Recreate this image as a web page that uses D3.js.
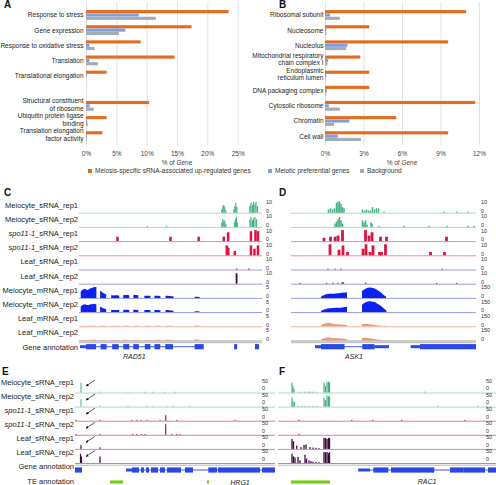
<!DOCTYPE html>
<html><head><meta charset="utf-8">
<script src="https://cdn.jsdelivr.net/npm/d3@7"></script>
<style>body{margin:0;background:#fff}svg{display:block;font-family:"Liberation Sans",Arial,sans-serif}</style>
</head><body><svg id="c" width="496" height="485"></svg>
<script>
// ================= DATA =================
// Panel A
const catsA = [["Response to stress"],["Gene expression"],["Response to oxidative stress"],["Translation"],["Translational elongation"],[],["Structural constituent","of ribosome"],["Ubiquitin protein ligase","binding"],["Translation elongation","factor activity"]];
const meiosisA = [23.5,17.4,9.0,14.6,3.4,null,10.4,3.4,2.7];
const meioticA = [8.7,6.5,0.55,0.55,0.15,null,0.6,0.2,0.15];
const backgroundA = [11.5,5.4,1.4,2.0,0.05,null,1.3,0.3,0.1];
const ticksA = [0,5,10,15,20,25];
// Panel B
const catsB = [["Ribosomal subunit"],["Nucleosome"],["Nucleolus"],["Mitochondrial respiratory","chain complex I"],["Endoplasmic","reticulum lumen"],["DNA packaging complex"],["Cytosolic ribosome"],["Chromatin"],["Cell wall"]];
const meiosisB = [11.0,3.45,9.6,2.75,3.45,3.45,11.7,5.55,9.6];
const meioticB = [0.4,0.1,1.75,0.25,0.1,0.15,0.3,1.9,1.0];
const backgroundB = [1.15,0.1,1.65,0.2,0.05,0.1,1.15,0.7,2.8];
const ticksB = [0,3,6,9,12];
const seriesNames = ["Meiosis-specific sRNA-associated up-regulated genes","Meiotic preferential genes","Background"];

// Genome browser track labels
const labelsCD = ["Meiocyte_sRNA_rep1","Meiocyte_sRNA_rep2","spo11-1_sRNA_rep1","spo11-1_sRNA_rep2","Leaf_sRNA_rep1","Leaf_sRNA_rep2","Meiocyte_mRNA_rep1","Meiocyte_mRNA_rep2","Leaf_mRNA_rep1","Leaf_mRNA_rep2","Gene annotation"];
const labelsEF = ["Meiocyte_sRNA_rep1","Meiocyte_sRNA_rep2","spo11-1_sRNA_rep1","spo11-1_sRNA_rep2","Leaf_sRNA_rep1","Leaf_sRNA_rep2","Gene annotation","TE annotation"];
const scaleMaxC = [10,10,10,10,10,10,5,5,5,5];
const scaleMaxD = [10,10,10,10,10,10,150,150,150,150];
const scaleMaxEF = [50,50,50,50,50,50];

// Panel C (RAD51) positions in bp, values = coverage
const cMeiS1 = [[1420,3],[1430,6],[1440,7],[1450,5],[1460,2],[1540,3],[1550,6],[1560,9],[1570,5],[1700,6],[1710,9],[1725,7],[1735,10],[1750,8],[1760,10],[1775,6]];
const cMeiS2 = [[680,1],[870,1],[1420,4],[1430,7],[1440,5],[1450,6],[1460,3],[1545,4],[1555,7],[1565,9],[1575,4],[1700,7],[1710,9],[1725,6],[1735,8],[1750,9],[1765,7]];
const cSpoS1 = [[383,4],[910,4],[1190,4],[1440,4],[1483,8],[1710,9],[1755,10],[1780,9]];
const cSpoS2 = [[1470,9],[1485,7],[1550,4],[1710,9],[1745,6],[1780,9]];
const cLeafS1 = [[1567,0.5],[1690,0.5]];
const cLeafS2 = [[1567,9.5]];
const cMeiM1 = [[17,173,[2.8,3.8,4.0,3.6,4.2,4.5,4.9,5]],[210,270,[3.2,2.6,2.0,1.5]],[320,400,[1.2,1.1,1.2,1.0]],[440,500,[1.2,1.3,1.1]],[540,590,[1.3,1.2]],[650,710,[1.0,1.0]],[750,810,[1.0,0.9]],[860,940,[1.0,0.9,0.7]],[1150,1200,[0.5,0.4]]];
const cMeiM2 = [[17,173,[2.4,3.3,3.6,3.2,3.5,3.6,3.8,3.5]],[210,270,[2.4,2.0,1.6,1.3]],[320,400,[1.0,1.0,1.0,0.9]],[440,500,[1.0,1.1,1.0]],[540,590,[1.1,1.0]],[650,710,[0.9,0.9]],[750,810,[0.9,0.8]],[860,940,[0.9,0.8,0.6]],[1150,1200,[0.4,0.3]]];
const cLeafM1 = [[17,173,[0.2,0.3,0.2]],[210,270,[0.3,0.2]],[320,400,[0.2,0.2]],[440,500,[0.2,0.3]],[540,590,[0.2,0.2]],[650,710,[0.2,0.2]],[750,810,[0.2,0.2]],[860,940,[0.3,0.3]],[1150,1200,[0.4,0.3]]];
const cLeafM2 = [[17,173,[0.2,0.2,0.3]],[210,270,[0.2,0.2]],[320,400,[0.2,0.2]],[440,500,[0.3,0.2]],[540,590,[0.2,0.2]],[650,710,[0.2,0.2]],[750,810,[0.2,0.3]],[860,940,[0.3,0.2]],[1150,1200,[0.4,0.3]]];
const cGeneLines = [[10,1240]];
const cExons = [[10,70,0],[70,170,1],[215,275,1],[330,395,1],[440,500,1],[540,595,1],[655,710,1],[750,808,1],[858,935,1],[1150,1240,1],[1543,1573,1],[1750,1790,1]];

// Panel D (ASK1)
const dMeiS1 = [[375,3],[395,4],[415,3],[435,4],[455,9],[470,10],[485,10],[500,8],[515,5],[530,4],[715,3],[735,2],[755,3],[775,2],[795,2],[815,5],[835,3],[855,4],[875,4],[930,1],[1530,1],[1660,1],[1770,1]];
const dMeiS2 = [[440,3],[455,5],[470,7],[485,9],[500,6],[515,3],[715,6],[730,4],[745,6],[760,2],[800,4],[810,3],[880,1],[1130,1],[1380,1],[1560,1],[1770,1],[1830,1]];
const dSpoS1 = [[330,3],[395,4],[440,4],[470,5],[515,10],[745,10],[780,5],[810,8],[895,4],[955,4],[1555,4]];
const dSpoS2 = [[390,10],[480,5],[520,9],[565,3],[720,6],[750,10],[790,3],[820,9],[885,3],[905,3],[945,10],[1395,3],[1535,3]];
const dLeafS1 = [[370,0.5],[440,0.5],[500,0.8],[1510,0.5]];
const dLeafS2 = [[90,0.5],[357,0.7],[420,0.8],[470,0.8],[510,1.3],[525,1.2],[747,1],[1457,0.4],[1657,0.4]];
const dMeiM1 = [[300,560,[10,40,52,55,58,62,66,72,75]],[710,950,[90,115,135,142,140,130,115,95,70,40,15]]];
const dMeiM2 = [[300,560,[10,35,48,52,55,58,60,66,72]],[710,955,[95,125,140,148,145,138,120,100,75,45,15]]];
const dLeafM1 = [[300,560,[10,35,45,40,32,28,25,22,18]],[710,950,[30,32,30,25,20,15,10,6,3]]];
const dLeafM2 = [[300,560,[10,30,42,38,33,30,28,25,20]],[710,950,[35,38,35,28,20,14,9,5,3]]];
const dGeneLines = [[240,980],[1197,1850]];
const dExons = [[240,300,0],[300,535,1],[713,835,1],[835,980,0],[1197,1290,0],[1290,1850,1]];

// Panel E (HRG1)
const eMeiS1 = [[60,45],[250,4],[530,1],[700,1],[780,1],[900,1],[1000,1]];
const eMeiS2 = [[60,35],[250,5],[530,1],[717,2],[783,2],[850,2],[917,2],[983,2],[1150,1]];
const eSpoS1 = [[10,4],[250,3],[567,1],[620,1],[660,1],[720,1],[850,1],[907,25],[1017,2],[1600,1]];
const eSpoS2 = [[10,3],[250,3],[577,4],[617,3],[667,2],[700,1],[907,48],[967,2],[1017,2],[1050,1]];
const eLeafS1 = [[60,17],[250,7]];
const eLeafS2 = [[55,42],[65,30],[250,30]];
const eGeneLines = [[0,70],[510,2000]];
const eExons = [[0,70,1],[510,570,0],[570,640,1],[660,690,1],[710,740,1],[760,830,1],[850,900,1],[920,1060,1],[1100,1180,1],[1333,1420,1],[1430,1850,1],[1870,2000,1]];
const eTE = [[350,480],[1320,1340]];
const arrowE = [200,110];

// Panel F (RAC1)
const fMeiS1 = [[140,45],[150,30],[160,15],[200,3],[230,2],[270,4],[300,2],[320,2],[350,3],[385,3],[460,45],[475,30],[490,48],[505,50],[515,45],[1470,2]];
const fMeiS2 = [[140,42],[150,25],[165,20],[200,3],[240,2],[270,3],[310,2],[350,3],[390,3],[460,40],[475,30],[490,50],[505,48],[515,45],[1600,1],[2000,1]];
const fSpoS1 = [[210,2],[737,2],[947,2],[1237,3],[1870,2]];
const fSpoS2 = [[210,2]];
const fLeafS1 = [[140,45],[155,35],[187,15],[230,8],[260,18],[280,20],[320,8],[350,6],[380,5],[410,3],[460,50],[475,50],[490,45],[505,50],[515,50]];
const fLeafS2 = [[140,42],[155,30],[170,25],[200,28],[220,12],[270,38],[285,20],[310,12],[330,8],[350,6],[380,5],[410,4],[460,50],[475,48],[490,50],[505,45],[515,50]];
const fGeneLines = [[800,2180]];
const fExons = [[803,920,0],[953,1103,1],[1130,1563,1],[1720,1853,1],[1853,1970,1],[1970,2070,1],[2100,2180,1]];
const fTE = [[130,520]];

// ================= DRAWING =================
const svg = d3.select("#c");
const TXT = "#222";
const COL = ["#e46c1e","#7e9fe2","#a3acb5"];
const STY = {
  mei:{fill:"#45b283",base:"#a6dcc4"},
  spo:{fill:"#dc1540",base:"#e68fab"},
  spoE:{fill:"#b8143f",base:"#d9809c"},
  leaf:{fill:"#3a0b3e",base:"#a898c6"},
  mrna:{fill:"#0b22f2",base:"#959ce6"},
  leafm:{fill:"#ec9a74",base:"#efb59b"}
};
const defs = svg.append("defs");
defs.append("marker").attr("id","ah").attr("viewBox","0 0 10 10").attr("refX",9).attr("refY",5)
  .attr("markerWidth",4).attr("markerHeight",4).attr("orient","auto")
  .append("path").attr("d","M0,0L10,5L0,10z").attr("fill","#111");

function letter(t,x,y){svg.append("text").attr("x",x).attr("y",y).attr("font-size",10).attr("font-weight","bold").attr("fill","#111").text(t);}

function barPanel(cats, vals, xr, maxV, ticks, labelX){
  const x = d3.scaleLinear().domain([0,maxV]).range(xr);
  const y = d3.scaleBand().domain(d3.range(cats.length)).range([7.5,143.8]);
  const inner = d3.scaleBand().domain([0,1,2]).range([-5,5]);
  const g = svg.append("g");
  const ax = g.append("g").attr("transform","translate(0,145)")
    .call(d3.axisBottom(x).tickValues(ticks).tickSize(-143).tickPadding(6).tickFormat(d=>d+"%"));
  ax.select(".domain").remove();
  ax.selectAll("line").attr("stroke","#d9d9d9").attr("stroke-width",0.8);
  ax.selectAll("text").attr("font-size",6.5).attr("fill","#444").attr("font-family","Liberation Sans, Arial, sans-serif");
  vals.forEach((arr,si)=>{
    g.selectAll(null).data(arr.map((v,i)=>({v,i})).filter(d=>d.v!=null)).join("rect")
      .attr("x",x(0)).attr("y",d=>y(d.i)+y.bandwidth()/2+inner(si))
      .attr("width",d=>x(d.v)-x(0)).attr("height",inner.bandwidth()-0.2).attr("fill",COL[si]);
  });
  g.append("text").attr("x",(x(0)+x(maxV))/2).attr("y",164.5).attr("text-anchor","middle")
    .attr("font-size",6.5).attr("fill","#444").text("% of Gene");
  cats.forEach((lines,i)=>{
    const cy = y(i)+y.bandwidth()/2;
    lines.forEach((l,j)=>{
      g.append("text").attr("x",labelX).attr("y",cy+2.3+(j-(lines.length-1)/2)*7.6-(lines.length>1?1.5:0))
        .attr("text-anchor","end").attr("font-size",6.5).attr("fill",TXT).text(l);
    });
  });
}

letter("A",4,8); letter("B",279,8);
barPanel(catsA,[meiosisA,meioticA,backgroundA],[86,268],30,ticksA,83.5);
barPanel(catsB,[meiosisB,meioticB,backgroundB],[325,479],12,ticksB,323.5);

// legend
const legX = [88,268,360];
seriesNames.forEach((n,i)=>{
  svg.append("rect").attr("x",legX[i]).attr("y",169).attr("width",4).attr("height",4).attr("fill",COL[i]);
  svg.append("text").attr("x",legX[i]+7).attr("y",173.3).attr("font-size",6.5).attr("fill","#333").text(n);
});

function trackLabels(labels,x,y0,row){
  labels.forEach((s,i)=>{
    const t = svg.append("text").attr("x",x).attr("y",y0+i*row).attr("text-anchor","end").attr("font-size",7.5).attr("fill",TXT);
    if (s.startsWith("spo11-1")) { t.append("tspan").attr("font-style","italic").text("spo11-1"); t.append("tspan").text(s.slice(7)); }
    else t.text(s);
  });
}

const TH = 11;
function trackPanel(p){
  const x = d3.scaleLinear().domain(p.domain).range(p.range);
  const g = svg.append("g");
  p.tracks.forEach((t,i)=>{
    const by = p.base0 + i*p.row;
    const st = STY[t.style];
    const h = d3.scaleLinear().domain([0,t.max]).range([0,TH]).clamp(true);
    if (i === p.tracks.length-1){
      g.append("line").attr("x1",p.range[0]).attr("x2",p.range[1]).attr("y1",by+0.5).attr("y2",by+0.5).attr("stroke","#9a9a9a").attr("stroke-width",1);
      g.append("line").attr("x1",p.range[0]).attr("x2",p.range[1]).attr("y1",by+2.2).attr("y2",by+2.2).attr("stroke","#b8b8b8").attr("stroke-width",1);
    } else {
      g.append("line").attr("x1",p.range[0]).attr("x2",p.range[1]).attr("y1",by+0.5).attr("y2",by+0.5).attr("stroke",st.base).attr("stroke-width",1);
    }
    if (t.bars){
      g.selectAll(null).data(t.bars).join("rect")
        .attr("x",d=>x(d[0]-t.w/2)).attr("width",d=>Math.max(0.9,x(d[0]+t.w/2)-x(d[0]-t.w/2)))
        .attr("y",d=>by-Math.max(0.8,h(d[1]))).attr("height",d=>Math.max(0.8,h(d[1]))).attr("fill",st.fill);
    }
    if (t.segs){
      const area = d3.area().x(d=>x(d[0])).y0(by).y1(d=>by-h(d[1])).curve(d3.curveMonotoneX);
      t.segs.forEach(([s,e,hs])=>{
        const pts = [[s,0]].concat(hs.map((v,k)=>[s+(e-s)*(hs.length===1?0.5:k/(hs.length-1)),v])).concat([[e,0]]);
        pts[1][0]+=0.01; pts[pts.length-2][0]-=0.01;
        g.append("path").attr("d",area(pts)).attr("fill",st.fill);
      });
    }
    g.append("text").attr("x",p.scaleX).attr("y",by+p.zeroDy).attr("font-size",5.5).attr("fill","#333").text("0");
    g.append("text").attr("x",p.scaleX).attr("y",by+p.topDy).attr("font-size",5.5).attr("fill","#333").text(t.max);
  });
  // gene annotation
  const gy = p.base0 + (p.tracks.length-1)*p.row + p.geneDy;
  g.selectAll(null).data(p.geneLines).join("line")
    .attr("x1",d=>x(d[0])).attr("x2",d=>x(d[1])).attr("y1",gy).attr("y2",gy).attr("stroke","#2a48e8").attr("stroke-width",0.9);
  g.selectAll(null).data(p.exons).join("rect")
    .attr("x",d=>x(d[0])).attr("width",d=>x(d[1])-x(d[0]))
    .attr("y",d=>gy-(d[2]?2.6:1.5)).attr("height",d=>d[2]?5.2:3).attr("fill","#2a48e8");
  if (p.te){
    g.selectAll(null).data(p.te).join("rect")
      .attr("x",d=>x(d[0])).attr("width",d=>x(d[1])-x(d[0])).attr("y",p.teY-1.6).attr("height",3.2).attr("fill","#74cf1c");
  }
  g.append("text").attr("x",x(p.geneName[1])).attr("y",p.geneName[2]).attr("text-anchor","middle")
    .attr("font-size",7).attr("font-style","italic").attr("fill",TXT).text(p.geneName[0]);
  return x;
}

function mk(arrs, styles, maxes, widths){
  return arrs.map((a,i)=> Array.isArray(a[0]) && Array.isArray(a[0][2])
    ? {segs:a, style:styles[i], max:maxes[i]}
    : {bars:a, style:styles[i], max:maxes[i], w:widths[i]});
}
const stCD = ["mei","mei","spo","spo","leaf","leaf","mrna","mrna","leafm","leafm"];
const stEF = ["mei","mei","spoE","spoE","leaf","leaf"];

letter("C",4,196); letter("D",279,196);
trackLabels(labelsCD,78,207.5,14.2);
trackPanel({domain:[0,1820],range:[79,262],base0:212.7,row:14.2,scaleX:266,zeroDy:0.3,topDy:-8.5,geneDy:6.2,
  tracks:mk([cMeiS1,cMeiS2,cSpoS1,cSpoS2,cLeafS1,cLeafS2,cMeiM1,cMeiM2,cLeafM1,cLeafM2],stCD,scaleMaxC,[12,12,25,25,15,18]),
  geneLines:cGeneLines, exons:cExons, geneName:["RAD51",550,358.5]});
trackPanel({domain:[0,1850],range:[291,476],base0:212.7,row:14.2,scaleX:481,zeroDy:0.3,topDy:-8.5,geneDy:6.2,
  tracks:mk([dMeiS1,dMeiS2,dSpoS1,dSpoS2,dLeafS1,dLeafS2,dMeiM1,dMeiM2,dLeafM1,dLeafM2],stCD,scaleMaxD,[15,15,28,28,12,12]),
  geneLines:dGeneLines, exons:dExons, geneName:["ASK1",630,358.5]});

letter("E",2,375); letter("F",279,375);
trackLabels(labelsEF,74,384.8,14.1);
const xE = trackPanel({domain:[0,2000],range:[75,275],base0:392.5,row:14.1,scaleX:262,zeroDy:-2.2,topDy:-10,geneDy:7,
  tracks:mk([eMeiS1,eMeiS2,eSpoS1,eSpoS2,eLeafS1,eLeafS2],stEF,scaleMaxEF,[10,10,12,12,12,12]),
  geneLines:eGeneLines, exons:eExons, te:eTE, teY:482, geneName:["HRG1",1650,484.5]});
trackPanel({domain:[0,2180],range:[278,496],base0:392.5,row:14.1,scaleX:486,zeroDy:-2.2,topDy:-10,geneDy:7,
  tracks:mk([fMeiS1,fMeiS2,fSpoS1,fSpoS2,fLeafS1,fLeafS2],stEF,scaleMaxEF,[12,12,15,15,13,13]),
  geneLines:fGeneLines, exons:fExons, te:fTE, teY:482, geneName:["RAC1",1490,483.5]});

// arrows in E
d3.range(6).forEach(i=>{
  const by = 392.5 + i*14.1;
  svg.append("line").attr("x1",xE(arrowE[0])).attr("y1",by-12.5).attr("x2",xE(arrowE[1])).attr("y2",by-6.5)
    .attr("stroke","#111").attr("stroke-width",0.7).attr("marker-end","url(#ah)");
});
</script></body></html>
